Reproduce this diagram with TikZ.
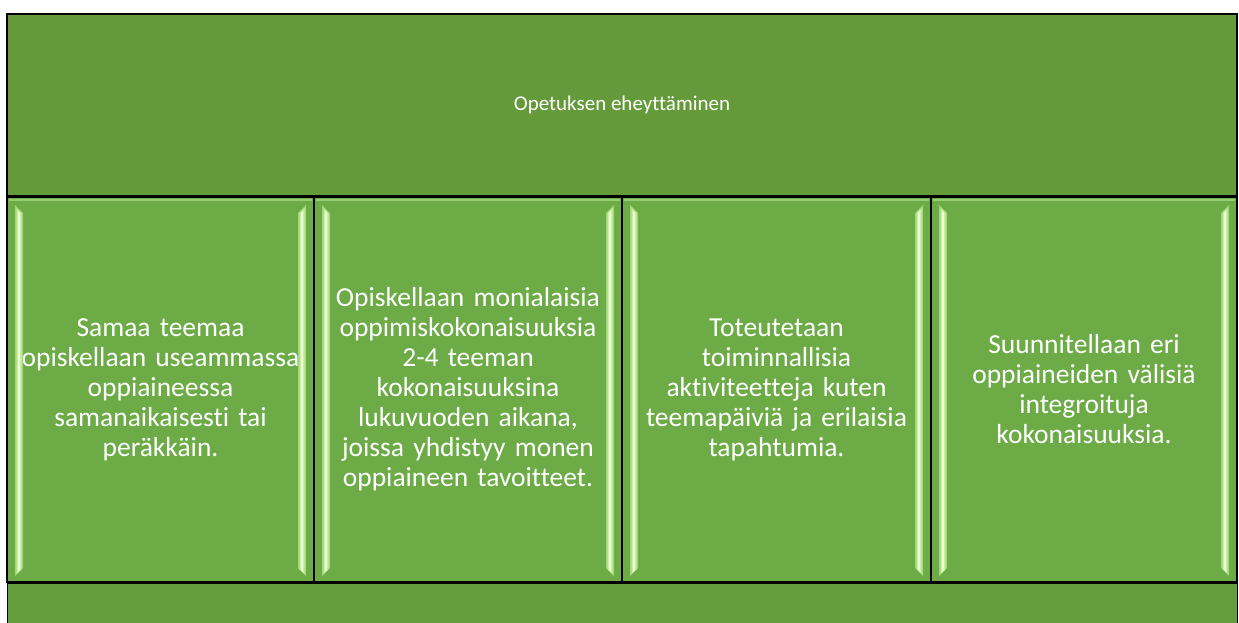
\documentclass[tikz,border=0pt]{standalone}
\usepackage{fontspec}
\setmainfont{Carlito}[Ligatures=CommonOff]
\definecolor{topgreen}{RGB}{101,154,59}
\definecolor{cellgreen}{RGB}{108,171,70}
\definecolor{botgreen}{RGB}{101,158,60}
\definecolor{stripeout}{RGB}{160,215,120}
\definecolor{stripemid}{RGB}{200,238,160}
\definecolor{stripein}{RGB}{238,253,215}
\definecolor{toplight}{RGB}{150,205,115}
\begin{document}
\begin{tikzpicture}[x=1pt,y=-1pt,
  box/.style={draw=black, line width=1.3pt, inner sep=0pt},
  cell/.style={box, fill=cellgreen, minimum height=385pt, text width=292pt, align=center, text=white, font=\fontsize{27.5}{30}\selectfont},
  headbox/.style={box, fill=topgreen, minimum width=1230pt, minimum height=182pt, text=white, font=\fontsize{21}{25}\selectfont},
  stripeo/.style={fill=stripeout},
  stripem/.style={fill=stripemid},
  stripei/.style={fill=stripein}]
\useasboundingbox (0,0) rectangle (1239,622);
\begin{scope}
\clip (0,0) rectangle (1239,622);
\node[box, fill=botgreen, minimum width=1230pt, minimum height=80pt, anchor=north west] (bottom) at (7,583) {};
\end{scope}
\node[headbox] (head) at (622,105) {Opetuksen eheyttäminen};
\node[cell, minimum width=307pt] (c1) at (160.5,389.5) {Samaa teemaa\\ opiskellaan useammassa\\ oppiaineessa\\ samanaikaisesti tai\\ peräkkäin.};
\node[cell, minimum width=308pt] (c2) at (468,389.5) {Opiskellaan monialaisia\\ oppimiskokonaisuuksia\\ 2-4 teeman\\ kokonaisuuksina\\ lukuvuoden aikana,\\ joissa yhdistyy monen\\ oppiaineen tavoitteet.};
\node[cell, minimum width=309pt] (c3) at (776.5,389.5) {Toteutetaan\\ toiminnallisia\\ aktiviteetteja kuten\\ teemapäiviä ja erilaisia\\ tapahtumia.};
\node[cell, minimum width=306pt] (c4) at (1084,389.5) {Suunnitellaan eri\\ oppiaineiden välisiä\\ integroituja\\ kokonaisuuksia.};
% bevel highlights
\foreach \l/\r in {7/314, 314/622, 622/931, 931/1237}{
  \fill[toplight] (\l+2,199) rectangle (\r-2,201);
  % left stripe
  \fill[stripeo] (\l+8,205) -- (\l+16,213) -- (\l+16,568) -- (\l+8,576) -- cycle;
  \fill[stripem] (\l+9.5,208) -- (\l+14.5,213) -- (\l+14.5,569) -- (\l+9.5,574) -- cycle;
  \fill[stripei] (\l+11,211) -- (\l+13,213) -- (\l+13,570) -- (\l+11,572) -- cycle;
  % right stripe
  \fill[stripeo] (\r-8,205) -- (\r-16,213) -- (\r-16,568) -- (\r-8,576) -- cycle;
  \fill[stripem] (\r-9.5,208) -- (\r-14.5,213) -- (\r-14.5,569) -- (\r-9.5,574) -- cycle;
  \fill[stripei] (\r-11,211) -- (\r-13,213) -- (\r-13,570) -- (\r-11,572) -- cycle;
}
% redraw borders on top
\draw[black, line width=1.3pt] (c1.north west) rectangle (c4.south east);
\foreach \n in {c1,c2,c3}{\draw[black, line width=1.3pt] (\n.north east) -- (\n.south east);}
\end{tikzpicture}
\end{document}
